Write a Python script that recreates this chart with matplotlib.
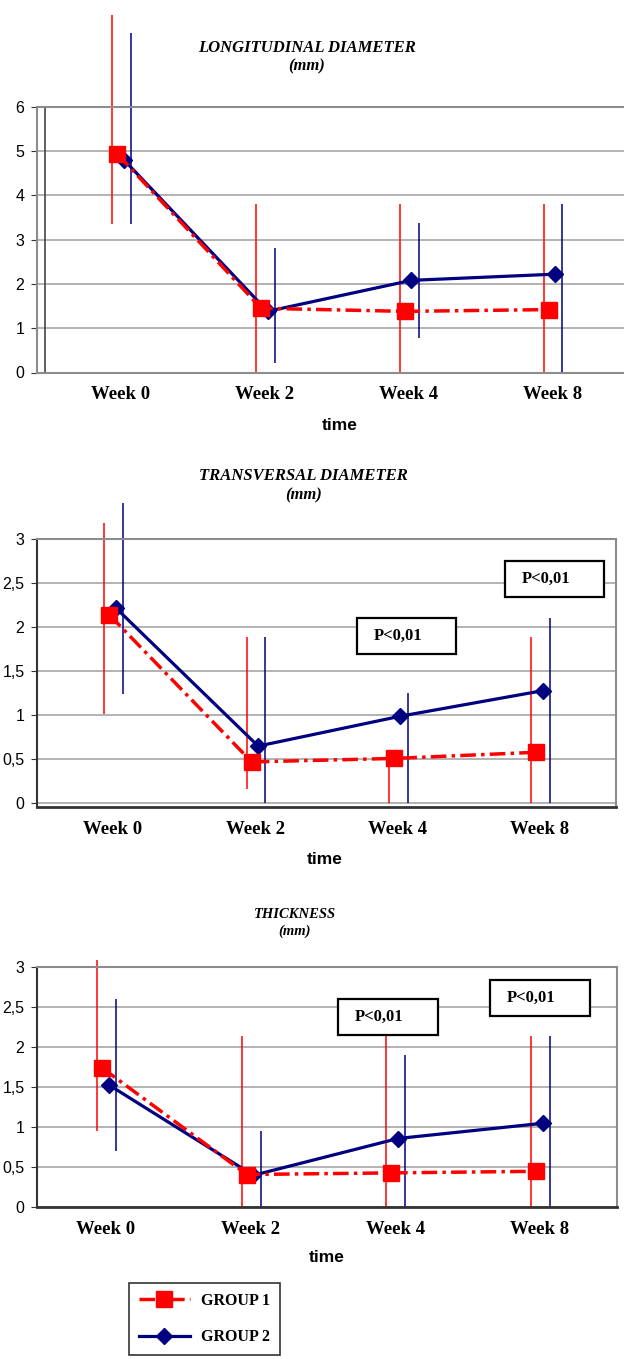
import numpy as np
import matplotlib.pyplot as plt
from matplotlib.patches import Rectangle
from matplotlib.ticker import FuncFormatter

plt.rcParams['font.family'] = ['Liberation Sans', 'DejaVu Sans']

weeks = ['Week 0', 'Week 2', 'Week 4', 'Week 8']
groups = ['GROUP 1', 'GROUP 2']
p_label = 'P<0,01'

# longitudinal diameter (mm)
long_g1 = [4.93, 1.45, 1.38, 1.42]
long_g2 = [4.80, 1.38, 2.08, 2.22]
long_g1_lo = [3.35, 0, 0, 0]
long_g1_hi = [8.08, 3.80, 3.80, 3.80]
long_g2_lo = [3.35, 0.21, 0.78, 0]
long_g2_hi = [7.66, 2.80, 3.37, 3.80]

# transversal diameter (mm)
trans_g1 = [2.14, 0.47, 0.51, 0.58]
trans_g2 = [2.22, 0.65, 0.99, 1.28]
trans_g1_lo = [1.02, 0.16, 0, 0]
trans_g1_hi = [3.19, 1.89, 0.61, 1.89]
trans_g2_lo = [1.24, 0, 0, 0]
trans_g2_hi = [3.41, 1.89, 1.25, 2.11]

# thickness (mm)
thick_g1 = [1.74, 0.41, 0.43, 0.45]
thick_g2 = [1.53, 0.40, 0.86, 1.05]
thick_g1_lo = [0.95, 0, 0, 0]
thick_g1_hi = [3.09, 2.14, 2.14, 2.14]
thick_g2_lo = [0.71, 0, 0, 0]
thick_g2_hi = [2.61, 0.95, 1.90, 2.14]

RED = '#ff0000'
NAVY = '#000080'
SERIF = ['Liberation Serif', 'DejaVu Serif']

W, H = 624, 1359
fig = plt.figure(figsize=(W / 100, H / 100), dpi=100)


def px_axes(x0, y0, x1, y1):
    return fig.add_axes([x0 / W, 1 - y1 / H, (x1 - x0) / W, (y1 - y0) / H])


def ftext(x, y, s, **kw):
    fig.text(x / W, 1 - y / H, s, ha='center', va='center', **kw)


def title(x, y, s, size):
    ftext(x, y, s, family=SERIF, weight='bold', style='italic', fontsize=size)
    ftext(x, y + 19, '(mm)', family=SERIF, weight='bold', style='italic', fontsize=size)


def p_box(x0, y0, x1, y1):
    fig.add_artist(Rectangle((x0 / W, 1 - y1 / H), (x1 - x0) / W, (y1 - y0) / H,
                             transform=fig.transFigure, fc='white', ec='black', lw=1.6, zorder=5))
    ftext(x0 + 41, (y0 + y1) / 2, p_label, family=SERIF, weight='bold', fontsize=12, zorder=6)


def panel(ax, g1, g2, g1_lo, g1_hi, g2_lo, g2_hi, ylim, ystep, xlim):
    x = np.arange(len(weeks))
    ax.set_xlim(*xlim)
    ax.set_ylim(*ylim)
    ax.set_yticks(np.arange(0, ylim[1] + ystep / 2, ystep))
    ax.yaxis.set_major_formatter(FuncFormatter(lambda v, p: f'{v:g}'.replace('.', ',')))
    ax.grid(axis='y', color='#a6a6a6', lw=1.2)
    ax.set_axisbelow(True)
    ax.vlines(x - 0.06, g1_lo, g1_hi, color=RED, lw=1.1, clip_on=False, zorder=2)
    ax.vlines(x + 0.07, g2_lo, g2_hi, color=NAVY, lw=1.1, clip_on=False, zorder=2)
    l2, = ax.plot(x + 0.02, g2, color=NAVY, lw=2.3, marker='D', ms=8, zorder=3)
    l1, = ax.plot(x - 0.025, g1, color=RED, lw=2.5, ls=(0, (4.5, 1.5, 1, 1.5)),
                  marker='s', ms=11, zorder=4)
    ax.set_xticks(x)
    ax.set_xticklabels(weeks, family=SERIF, weight='bold', fontsize=13.5)
    ax.tick_params(axis='x', length=0, pad=10)
    ax.tick_params(axis='y', length=4, color='#333333', labelsize=11.5, pad=5)
    for s in ax.spines.values():
        s.set_color('#8c8c8c')
        s.set_linewidth(1.5)
    return l1, l2


# panel 1
ax1 = px_axes(37, 106.7, 624, 372.5)
panel(ax1, long_g1, long_g2, long_g1_lo, long_g1_hi, long_g2_lo, long_g2_hi,
      (0, 6), 1, (-0.585, 3.50))
ax1.spines['right'].set_visible(False)
bx = 8 / 587
ax1.plot([0.005, bx, bx, 0.005], [1, 1, 0, 0], transform=ax1.transAxes,
         color='#444444', lw=1.2, clip_on=False)
title(307, 47.7, 'LONGITUDINAL DIAMETER', 12)
ftext(340, 425, 'time', weight='bold', fontsize=12.5)

# panel 2
ax2 = px_axes(37, 539.3, 615.5, 807)
panel(ax2, trans_g1, trans_g2, trans_g1_lo, trans_g1_hi, trans_g2_lo, trans_g2_hi,
      (-0.042, 3), 0.5, (-0.534, 3.531))
for side in ['left', 'bottom']:
    ax2.spines[side].set_color('#333333')
ax2.spines['bottom'].set_linewidth(2)
title(303.6, 476, 'TRANSVERSAL DIAMETER', 12)
ftext(325, 860, 'time', weight='bold', fontsize=12.5)
p_box(357, 618, 456, 654)
p_box(505, 561, 604, 597)

# panel 3
ax3 = px_axes(37, 967.3, 617, 1207.3)
l1, l2 = panel(ax3, thick_g1, thick_g2, thick_g1_lo, thick_g1_hi, thick_g2_lo, thick_g2_hi,
               (0, 3), 0.5, (-0.477, 3.535))
for side in ['left', 'bottom']:
    ax3.spines[side].set_color('#333333')
ax3.spines['bottom'].set_linewidth(2)
ftext(295, 914, 'THICKNESS', family=SERIF, weight='bold', style='italic', fontsize=10.5)
ftext(295, 931.7, '(mm)', family=SERIF, weight='bold', style='italic', fontsize=10.5)
ftext(327, 1257, 'time', weight='bold', fontsize=12.5)
p_box(338, 998.7, 438, 1035)
p_box(490, 979.7, 590, 1016)

leg = fig.legend([l1, l2], groups, loc='upper left', bbox_to_anchor=(129 / W, 1 - 1283 / H),
                 frameon=True, fancybox=False, edgecolor='black', handlelength=3.2,
                 handletextpad=0.7, borderpad=0.6, labelspacing=1.3, borderaxespad=0,
                 numpoints=1, prop={'family': SERIF, 'weight': 'bold', 'size': 11.5})
leg.get_frame().set_linewidth(1.2)

fig.savefig('out.png', dpi=100)
